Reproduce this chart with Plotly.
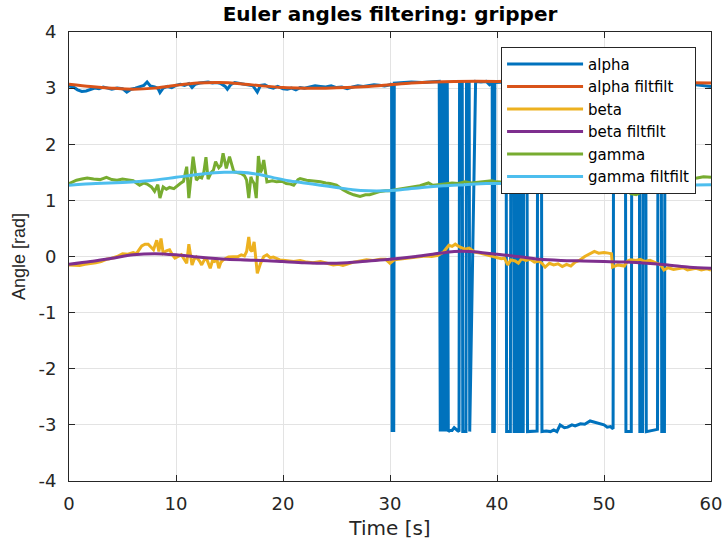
import plotly.graph_objects as go

# ---------------- data ----------------
alpha_t = [0, 0.4, 0.8, 1.2, 1.6, 2.0, 2.4, 2.8, 3.2, 3.6, 4.0, 4.5, 5.0, 5.4, 5.8, 6.2, 6.6, 7.0, 7.3, 7.6,
           8.0, 8.3, 8.5, 8.8, 9.2, 9.6, 10.0, 10.4, 10.8, 11.2, 11.5, 11.8, 12.2, 12.6, 13.0, 13.4, 13.8, 14.2,
           14.6, 14.8, 15.1, 15.5, 16.0, 16.4, 16.8, 17.2, 17.6, 17.9, 18.3, 18.7, 19.1, 19.5, 20.0, 20.4, 20.8,
           21.2, 21.6, 22.0, 22.5, 23.0, 23.5, 24.0, 24.5, 25.0, 25.5, 26.0, 26.5, 27.0, 27.5, 28.0, 28.5, 29.0,
           29.5, 30.0, 30.15, 30.2, 30.35, 30.4, 31.0, 32.0, 33.0, 34.0, 34.6,
           34.7, 34.85, 34.95, 35.1, 35.2, 35.35, 35.45, 35.6, 35.8, 36.0, 36.3, 36.45,
           36.5, 36.75, 36.8, 37.1, 37.15, 37.4, 37.45, 38.0, 38.5, 39.0, 39.3, 39.55,
           39.6, 39.75, 39.8, 40.3, 40.85, 40.9, 41.25, 41.3, 41.55, 41.6, 41.75, 41.8, 41.95,
           42.0, 42.05, 42.1, 42.25, 42.3, 42.45, 42.5, 42.8, 42.85, 43.3, 43.75,
           43.8, 44.15, 44.2, 44.6, 45.0, 45.3, 45.6, 45.9, 46.3, 46.6, 47.0, 47.3, 47.8, 48.2, 48.7,
           49.2, 49.6, 50.0, 50.3, 50.6, 50.85, 50.9, 51.3, 51.7, 52.0,
           52.05, 52.55, 52.6, 53.0, 53.3, 53.35, 53.6, 53.65, 53.9, 53.95, 54.5, 55.0,
           55.05, 55.35, 55.4, 55.65, 55.7, 56.2, 56.8, 57.4, 58.0, 58.6, 59.2, 60.0]
alpha_v = [3.04, 3.02, 2.97, 2.94, 2.95, 2.97, 3.00, 2.99, 3.02, 3.00, 2.98, 3.00, 2.99, 2.93, 2.98, 3.00, 3.03,
           3.05, 3.11, 3.04, 3.02, 3.00, 2.92, 3.00, 3.03, 3.01, 3.05, 3.07, 3.05, 3.08, 3.01, 3.07, 3.09, 3.10,
           3.11, 3.09, 3.10, 3.08, 3.03, 2.98, 3.06, 3.10, 3.08, 3.07, 3.05, 3.04, 2.93, 3.05, 3.06, 3.02, 3.00,
           3.03, 2.99, 2.98, 3.00, 2.97, 3.01, 3.00, 3.02, 3.04, 3.03, 3.02, 3.04, 3.01, 3.02, 2.99, 3.02, 3.04,
           3.03, 3.05, 3.06, 3.05, 3.04, 3.06, 3.08, -3.10, -3.10, 3.09, 3.10, 3.11, 3.10, 3.11, 3.12,
           -3.12, 3.10, -3.12, 3.10, -3.12, 3.10, -3.12, -3.10, -3.10, -3.05, -3.10, -3.12,
           3.11, 3.11, -3.12, -3.12, 3.10, 3.10, -3.12, 3.12, 3.11, 3.12, 3.06, 3.10,
           -3.12, -3.12, 3.10, 3.11, 3.11, -3.12, -3.12, 3.11, 3.11, -3.12, -3.12, 3.11, 3.11,
           -3.12, -3.12, 3.11, 3.11, -3.12, -3.12, 3.11, 3.12, -3.12, -3.12, -3.11,
           3.11, 3.11, -3.12, -3.11, -3.12, -3.09, -3.12, -3.00, -3.05, -3.04, -3.00, -3.02, -2.98, -2.99, -2.93,
           -2.96, -2.98, -3.00, -3.04, -3.03, -3.07, 3.10, 3.11, 3.10, 3.11,
           -3.12, -3.12, 3.11, 3.10, 3.11, -3.12, -3.12, 3.11, 3.11, -3.12, -3.10, -3.08,
           3.10, 3.10, -3.12, -3.12, 3.09, 3.10, 3.08, 3.09, 3.10, 3.06, 3.05, 3.03]

alpha_f_t = [0, 2, 4, 6, 8, 10, 12, 14, 16, 18, 20, 22, 24, 26, 28, 30, 32, 34, 36, 40, 44, 48, 52, 56, 60]
alpha_f_v = [3.07, 3.03, 3.00, 2.98, 3.00, 3.05, 3.09, 3.10, 3.08, 3.04, 3.01, 3.00, 3.00, 3.01, 3.03, 3.06,
             3.09, 3.11, 3.12, 3.12, 3.12, 3.11, 3.10, 3.10, 3.09]

beta_t = [0, 0.5, 1.0, 1.5, 2.0, 2.5, 3.0, 3.5, 4.0, 4.5, 5.0, 5.5, 6.0, 6.3, 6.8, 7.1, 7.4, 7.7, 7.9, 8.2, 8.4,
          8.6, 8.8, 9.1, 9.4, 9.7, 9.9, 10.2, 10.5, 11.0, 11.2, 11.5, 11.7, 11.9, 12.2, 12.4, 12.7, 12.9, 13.2,
          13.4, 13.6, 13.8, 14.0, 14.2, 14.4, 14.9, 15.4, 15.8, 16.1, 16.4, 16.6, 16.8, 16.95, 17.1, 17.3, 17.45,
          17.6, 17.9, 18.2, 18.5, 18.8, 19.1, 19.4, 19.7, 20.2, 20.6, 21.0, 21.6, 22.2, 22.8, 23.5, 24.1, 24.7,
          25.2, 25.6, 26.1, 26.6, 27.2, 27.8, 28.4, 29.1, 29.6, 30.0, 30.4, 30.8, 31.5, 32.1, 32.7, 33.3, 33.9,
          34.5, 35.0, 35.5, 35.8, 36.1, 36.5, 37.0, 37.4, 37.9, 38.4, 38.8, 39.2, 39.7, 40.1, 40.4, 40.7, 41.0,
          41.3, 41.7, 42.0, 42.3, 42.7, 43.1, 43.5, 43.9, 44.2, 44.5, 44.9, 45.3, 45.7, 46.1, 46.5, 46.9, 47.3,
          47.7, 48.2, 48.6, 49.1, 49.5, 50.0, 50.4, 50.7, 50.8, 51.3, 51.9, 52.2, 52.5, 53.0, 53.4, 53.8, 54.3,
          54.7, 55.0, 55.3, 55.6, 56.0, 56.5, 56.9, 57.4, 57.8, 58.1, 58.6, 59.1, 59.6, 60.0]
beta_v = [-0.15, -0.16, -0.16, -0.14, -0.13, -0.11, -0.09, -0.05, -0.03, 0.00, 0.05, 0.04, 0.07, 0.05, 0.19,
          0.22, 0.22, 0.15, 0.12, 0.29, 0.09, 0.32, 0.06, 0.10, 0.12, 0.02, -0.03, 0.00, 0.03, -0.12, 0.22,
          -0.15, -0.05, -0.01, -0.08, -0.15, -0.04, -0.06, -0.21, -0.08, -0.09, -0.03, -0.21, -0.10, -0.06,
          -0.01, -0.01, 0.00, 0.03, 0.01, 0.09, 0.35, 0.12, 0.09, 0.26, -0.05, -0.30, -0.12, 0.00, 0.03, -0.02,
          -0.01, -0.04, -0.06, -0.07, -0.08, -0.09, -0.07, -0.10, -0.11, -0.09, -0.12, -0.15, -0.14, -0.16,
          -0.13, -0.10, -0.08, -0.06, -0.07, -0.05, -0.05, -0.12, -0.06, -0.05, -0.04, -0.02, 0.00, 0.01, 0.00,
          0.02, 0.08, 0.20, 0.18, 0.22, 0.17, 0.13, 0.15, 0.08, 0.06, 0.04, 0.02, 0.00, -0.02, -0.04, -0.03,
          -0.15, -0.06, -0.08, -0.12, -0.04, -0.07, -0.05, -0.10, -0.08, -0.12, -0.19, -0.12, -0.15, -0.13,
          -0.18, -0.14, -0.17, -0.10, -0.07, 0.00, 0.04, 0.09, 0.06, 0.07, 0.06, 0.05, -0.19, -0.15, -0.17,
          -0.08, -0.06, -0.07, -0.05, -0.09, -0.07, -0.10, -0.12, -0.15, -0.24, -0.20, -0.23, -0.22, -0.20,
          -0.24, -0.23, -0.21, -0.24, -0.22, -0.24]

beta_f_t = [0, 2, 4, 6, 8, 10, 12, 14, 16, 18, 20, 22, 24, 26, 28, 30, 32, 34, 36, 37.5, 40, 42, 44, 46, 48,
            50, 52, 54, 56, 58, 60]
beta_f_v = [-0.14, -0.09, -0.03, 0.03, 0.05, 0.03, -0.01, -0.04, -0.06, -0.07, -0.09, -0.11, -0.12, -0.11,
            -0.08, -0.05, -0.01, 0.04, 0.09, 0.09, 0.04, 0.00, -0.05, -0.07, -0.08, -0.09, -0.10, -0.12,
            -0.15, -0.19, -0.21]

gamma_t = [0, 0.7, 1.2, 1.7, 2.3, 2.9, 3.5, 4.0, 4.5, 5.0, 5.4, 6.0, 6.6, 7.0, 7.3, 7.7, 8.0, 8.3, 8.5, 8.8,
           9.1, 9.4, 9.8, 10.1, 10.4, 10.7, 11.0, 11.2, 11.4, 11.6, 11.9, 12.2, 12.4, 12.6, 12.8, 13.0, 13.3,
           13.5, 13.7, 14.0, 14.2, 14.4, 14.7, 15.0, 15.4, 15.8, 16.1, 16.4, 16.6, 16.8, 17.0, 17.1, 17.3, 17.5,
           17.7, 17.9, 18.0, 18.2, 18.5, 19.0, 19.4, 19.9, 20.3, 20.7, 21.0, 21.4, 21.6, 22.2, 22.8, 23.5, 24.0,
           24.4, 25.0, 25.6, 26.1, 26.6, 27.2, 27.7, 28.1, 28.6, 29.1, 29.6, 30.0, 30.8, 31.5, 32.1, 32.8, 33.6,
           34.0, 34.5, 35.2, 35.8, 36.4, 37.0, 37.6, 38.3, 39.0, 39.5, 40.0, 41.0, 42.0, 43.0, 44.0, 45.0, 46.0,
           47.0, 48.0, 49.0, 50.0, 51.0, 52.0, 52.5, 53.0, 53.5, 54.0, 55.0, 56.0, 57.0, 58.0, 58.7, 59.3, 60.0]
gamma_v = [1.30, 1.36, 1.38, 1.40, 1.38, 1.37, 1.41, 1.37, 1.36, 1.38, 1.37, 1.35, 1.27, 1.31, 1.29, 1.24,
           1.16, 1.28, 1.04, 1.24, 1.20, 1.23, 1.21, 1.26, 1.30, 1.34, 1.60, 1.04, 1.45, 1.78, 1.36, 1.42, 1.40,
           1.50, 1.77, 1.38, 1.50, 1.54, 1.69, 1.58, 1.62, 1.84, 1.57, 1.78, 1.51, 1.49, 1.48, 1.44, 1.36, 1.04,
           1.42, 1.36, 1.30, 1.04, 1.79, 1.50, 1.54, 1.72, 1.33, 1.35, 1.33, 1.34, 1.30, 1.29, 1.27, 1.37, 1.39,
           1.36, 1.35, 1.33, 1.31, 1.30, 1.27, 1.19, 1.14, 1.10, 1.07, 1.10, 1.10, 1.13, 1.16, 1.17, 1.17, 1.20,
           1.22, 1.24, 1.26, 1.31, 1.27, 1.28, 1.30, 1.31, 1.30, 1.33, 1.31, 1.32, 1.33, 1.35, 1.33, 1.32, 1.33,
           1.30, 1.31, 1.29, 1.30, 1.31, 1.28, 1.30, 1.29, 1.27, 1.22, 1.12, 1.10, 1.15, 1.22, 1.27, 1.30, 1.33,
           1.36, 1.40, 1.42, 1.41]

gamma_f_t = [0, 2.5, 5, 7.5, 10, 12.5, 14.5, 16, 17.5, 19, 20.5, 22, 23.5, 25, 26.5, 28, 29.5, 31, 33, 35,
             37, 39, 41, 43, 45, 48, 51, 54, 57, 60]
gamma_f_v = [1.27, 1.30, 1.32, 1.35, 1.41, 1.47, 1.50, 1.50, 1.47, 1.41, 1.35, 1.31, 1.27, 1.23, 1.19, 1.17,
             1.17, 1.19, 1.23, 1.26, 1.28, 1.30, 1.30, 1.29, 1.28, 1.28, 1.27, 1.26, 1.27, 1.28]

x_ticks = [0, 10, 20, 30, 40, 50, 60]
y_ticks = [-4, -3, -2, -1, 0, 1, 2, 3, 4]
y_tick_text = ["-4", "-3", "-2", "-1", "0", "1", "2", "3", "4"]

# ---------------- figure ----------------
series = [
    ("alpha", alpha_t, alpha_v, "#0072BD"),
    ("alpha filtfilt", alpha_f_t, alpha_f_v, "#D95319"),
    ("beta", beta_t, beta_v, "#EDB120"),
    ("beta filtfilt", beta_f_t, beta_f_v, "#7E2F8E"),
    ("gamma", gamma_t, gamma_v, "#77AC30"),
    ("gamma filtfilt", gamma_f_t, gamma_f_v, "#4DBEEE"),
]

fig = go.Figure()
for name, t, v, col in series:
    smooth = "filtfilt" in name
    fig.add_trace(go.Scatter(
        x=t, y=v, mode="lines", name=name,
        line=dict(color=col, width=3, shape="spline" if smooth else "linear", smoothing=0.8),
    ))

axis_common = dict(
    showline=True, linecolor="#262626", linewidth=1, mirror="ticks",
    ticks="inside", ticklen=6, tickcolor="#262626",
    showgrid=True, gridcolor="#e3e3e3", gridwidth=1, zeroline=False, automargin=False,
    tickfont=dict(family="DejaVu Sans", size=18, color="#262626"),
)

fig.update_layout(
    width=725, height=545,
    margin=dict(l=69, r=14, t=32, b=64),
    paper_bgcolor="white", plot_bgcolor="white",
    title=dict(text="<b>Euler angles filtering: gripper</b>", x=0.5, xanchor="center", xref="paper",
               y=1 - 14 / 545, yanchor="middle", yref="container",
               font=dict(family="DejaVu Sans", size=20, color="black")),
    xaxis=dict(range=[0, 60], tickvals=x_ticks, ticklabelstandoff=6,
               title=dict(text="Time [s]", standoff=8,
                          font=dict(family="DejaVu Sans", size=20, color="#262626")),
               **axis_common),
    yaxis=dict(range=[-4, 4], tickvals=y_ticks, ticktext=y_tick_text, ticklabelstandoff=8,
               title=dict(text="Angle [rad]", standoff=8,
                          font=dict(family="Liberation Sans", size=18, color="#262626")),
               **axis_common),
    legend=dict(x=0.673, y=0.967, xanchor="left", yanchor="top",
                bgcolor="white", bordercolor="#262626", borderwidth=1,
                font=dict(family="DejaVu Sans", size=15, color="black"),
                itemwidth=76),
    showlegend=True,
)

fig.write_html("out.html")
